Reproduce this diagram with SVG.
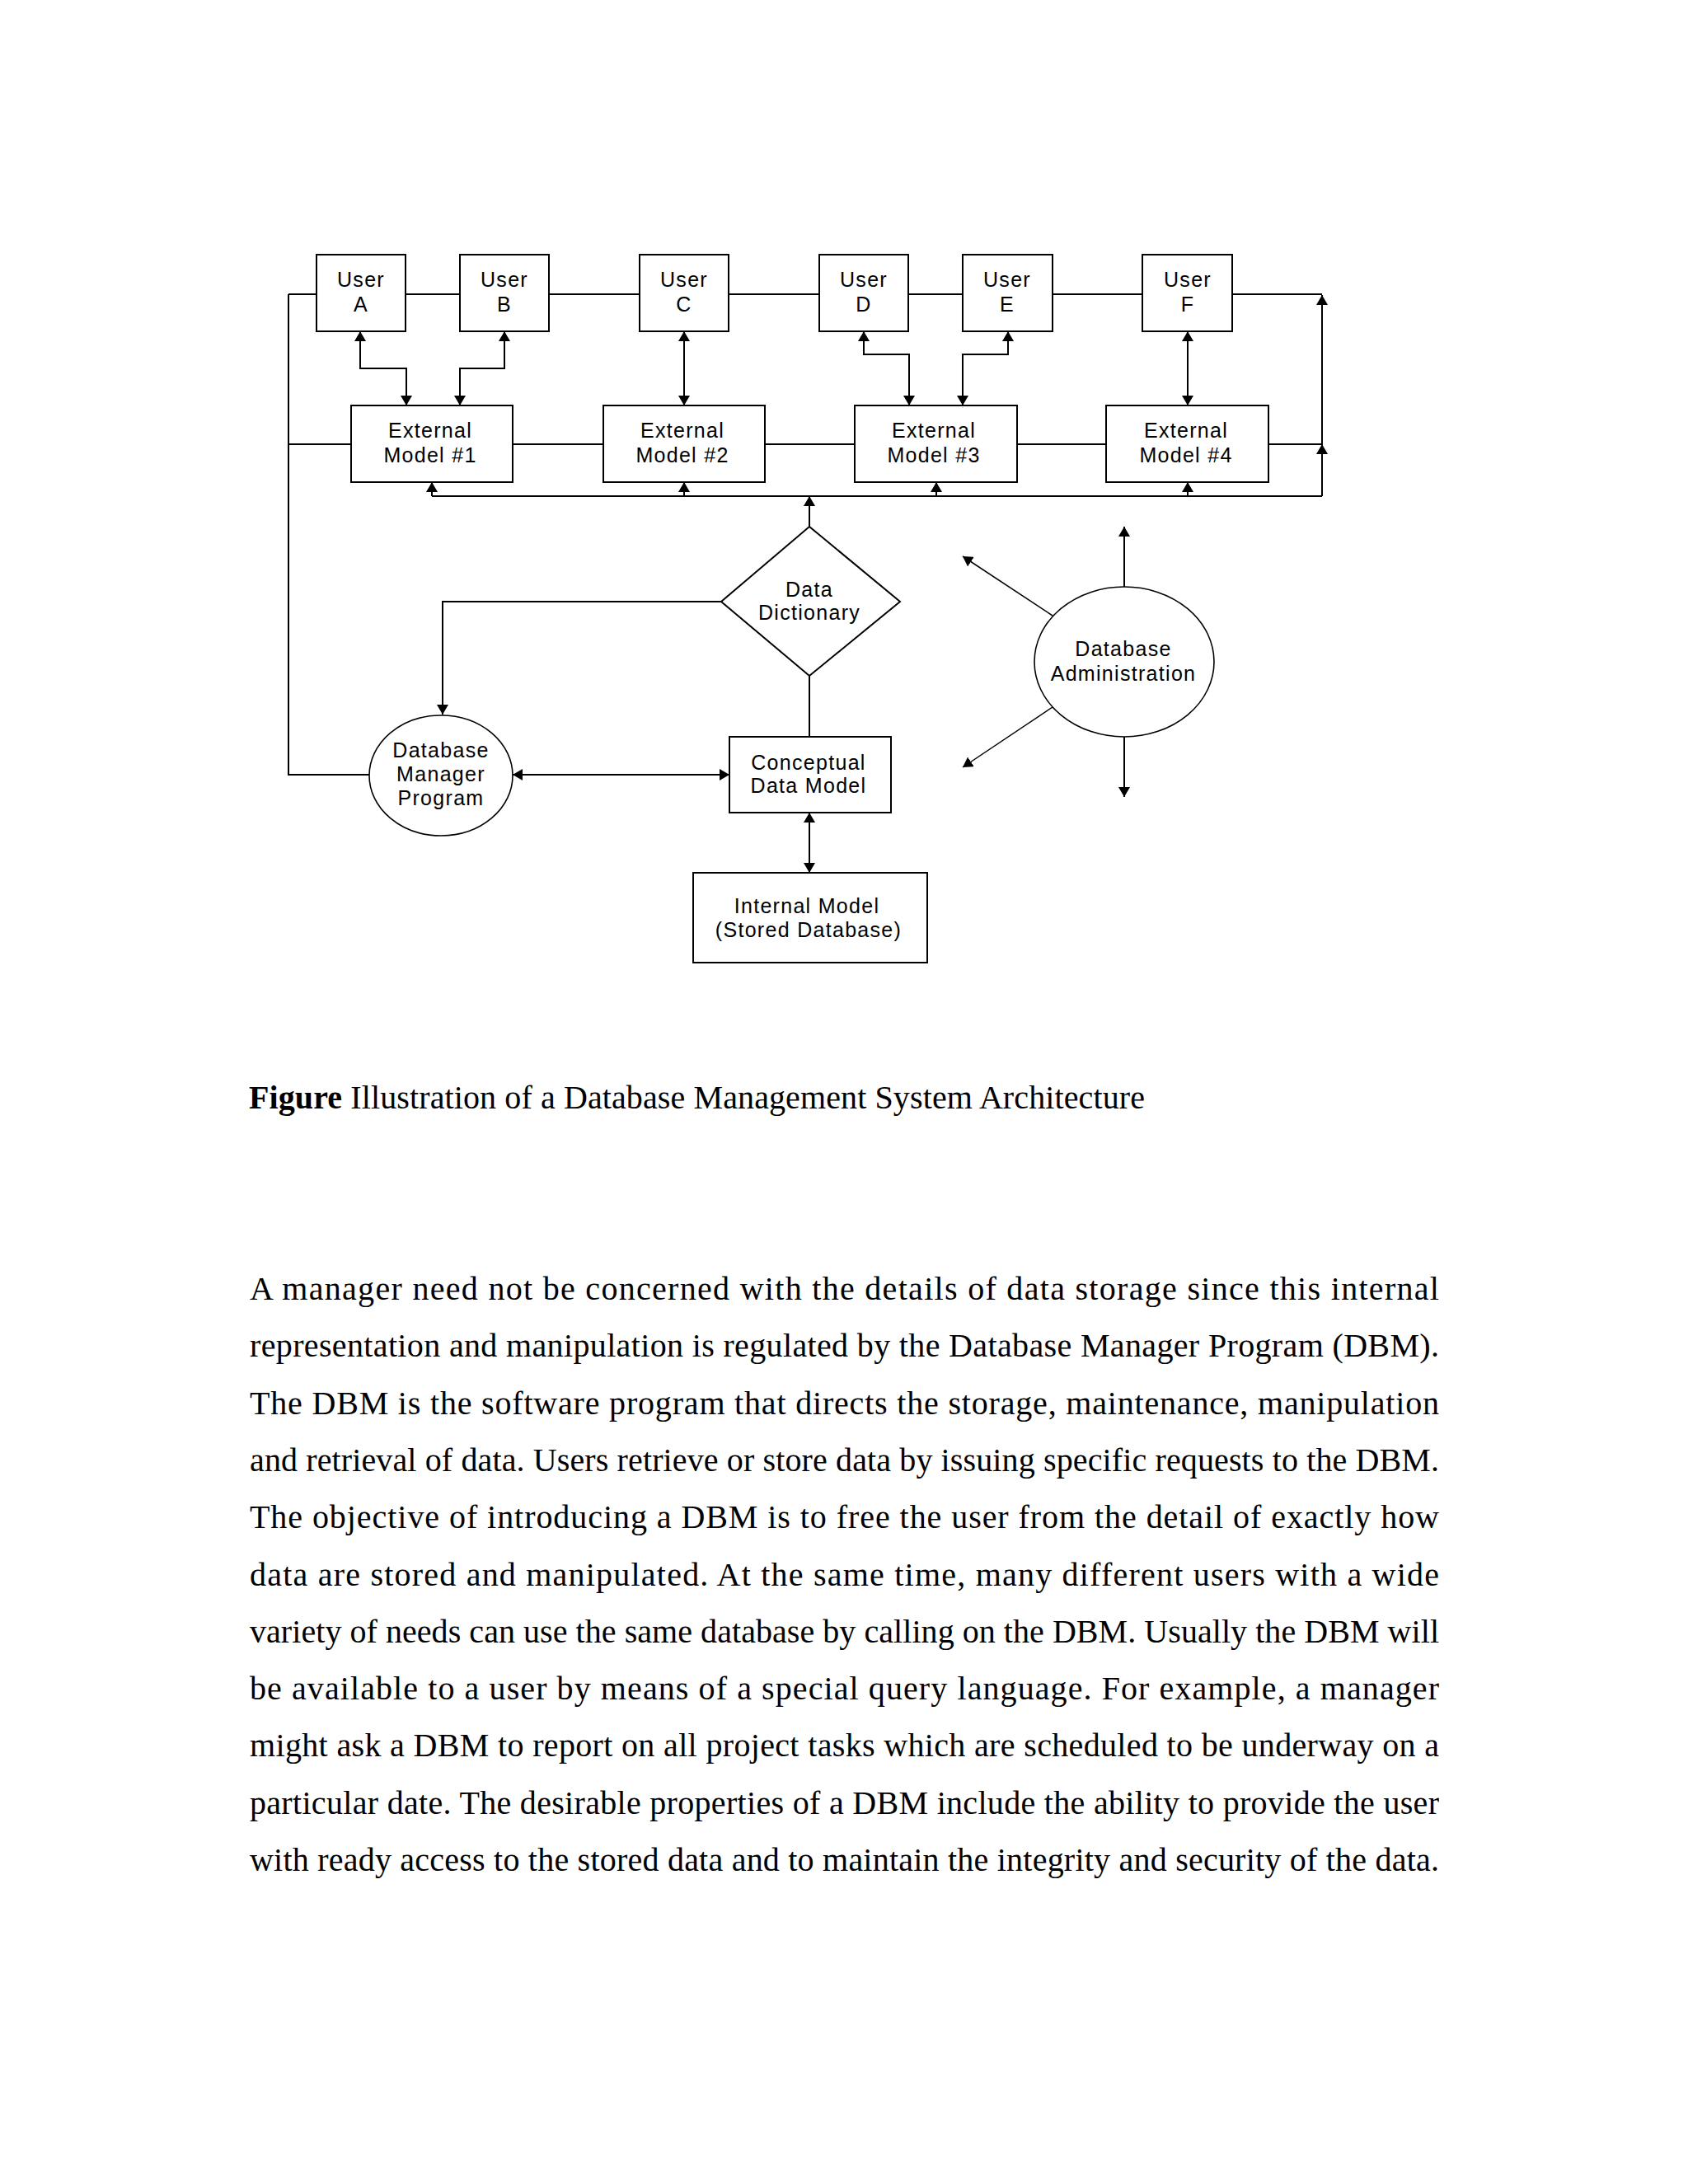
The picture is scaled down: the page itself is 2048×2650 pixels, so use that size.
<svg xmlns="http://www.w3.org/2000/svg" width="2048" height="2650" viewBox="0 0 2048 2650">
<style>
.ln{fill:none;stroke:#000;stroke-width:2}
.thin{fill:none;stroke:#000;stroke-width:1.5}
.box{fill:#fff;stroke:#000;stroke-width:2}
.ell{fill:#fff;stroke:#000;stroke-width:1.6}
.lbl{font-family:"Liberation Sans",Arial,sans-serif;font-size:25px;letter-spacing:1.3px;text-anchor:middle;fill:#000}
.body{font-family:"Liberation Serif","Times New Roman",serif;font-size:40px;fill:#000}
</style>
<defs>
<marker id="ah" markerUnits="userSpaceOnUse" markerWidth="12" markerHeight="14" viewBox="0 0 12 14" refX="12" refY="7" orient="auto-start-reverse">
<path d="M0,0 L12,7 L0,14 z" fill="#000"/>
</marker>
</defs>
<rect width="2048" height="2650" fill="#fff"/>

<g id="connectors">
<line class="ln" x1="350" y1="357" x2="1604" y2="357"/>
<line class="ln" x1="350" y1="539" x2="1604" y2="539"/>
<polyline class="ln" points="350,357 350,940 448,940"/>
<line class="ln" x1="1604" y1="602" x2="1604" y2="539" marker-end="url(#ah)"/>
<line class="ln" x1="1604" y1="539" x2="1604" y2="358" marker-end="url(#ah)"/>
<line class="ln" x1="524" y1="602" x2="1604" y2="602"/>
<line class="ln" x1="524" y1="602" x2="524" y2="585" marker-end="url(#ah)"/>
<line class="ln" x1="830" y1="602" x2="830" y2="585" marker-end="url(#ah)"/>
<line class="ln" x1="1136" y1="602" x2="1136" y2="585" marker-end="url(#ah)"/>
<line class="ln" x1="1441" y1="602" x2="1441" y2="585" marker-end="url(#ah)"/>
<polyline class="ln" points="437,402 437,447 493,447 493,492" marker-start="url(#ah)" marker-end="url(#ah)"/>
<polyline class="ln" points="612,402 612,447 558,447 558,492" marker-start="url(#ah)" marker-end="url(#ah)"/>
<line class="ln" x1="830" y1="402" x2="830" y2="492" marker-start="url(#ah)" marker-end="url(#ah)"/>
<polyline class="ln" points="1048,402 1048,430 1103,430 1103,492" marker-start="url(#ah)" marker-end="url(#ah)"/>
<polyline class="ln" points="1223,402 1223,430 1168,430 1168,492" marker-start="url(#ah)" marker-end="url(#ah)"/>
<line class="ln" x1="1441" y1="402" x2="1441" y2="492" marker-start="url(#ah)" marker-end="url(#ah)"/>
<line class="ln" x1="982" y1="639" x2="982" y2="602" marker-end="url(#ah)"/>
<polyline class="ln" points="875,730 537,730 537,867" marker-end="url(#ah)"/>
<line class="ln" x1="982" y1="820" x2="982" y2="894"/>
<line class="ln" x1="622" y1="940" x2="885" y2="940" marker-start="url(#ah)" marker-end="url(#ah)"/>
<line class="ln" x1="982" y1="986" x2="982" y2="1059" marker-start="url(#ah)" marker-end="url(#ah)"/>
<line class="ln" x1="1364" y1="712" x2="1364" y2="639" marker-end="url(#ah)"/>
<line class="ln" x1="1364" y1="894" x2="1364" y2="967" marker-end="url(#ah)"/>
<line class="thin" x1="1277" y1="747" x2="1168" y2="675" marker-end="url(#ah)"/>
<line class="thin" x1="1277" y1="858" x2="1168" y2="931" marker-end="url(#ah)"/>
</g>

<g id="userA"><rect class="box" x="384" y="309" width="108" height="93"/><text class="lbl" x="438" y="348">User</text><text class="lbl" x="438" y="378">A</text></g>
<g id="userB"><rect class="box" x="558" y="309" width="108" height="93"/><text class="lbl" x="612" y="348">User</text><text class="lbl" x="612" y="378">B</text></g>
<g id="userC"><rect class="box" x="776" y="309" width="108" height="93"/><text class="lbl" x="830" y="348">User</text><text class="lbl" x="830" y="378">C</text></g>
<g id="userD"><rect class="box" x="994" y="309" width="108" height="93"/><text class="lbl" x="1048" y="348">User</text><text class="lbl" x="1048" y="378">D</text></g>
<g id="userE"><rect class="box" x="1168" y="309" width="109" height="93"/><text class="lbl" x="1222" y="348">User</text><text class="lbl" x="1222" y="378">E</text></g>
<g id="userF"><rect class="box" x="1386" y="309" width="109" height="93"/><text class="lbl" x="1441" y="348">User</text><text class="lbl" x="1441" y="378">F</text></g>

<g id="ext1"><rect class="box" x="426" y="492" width="196" height="93"/><text class="lbl" x="522" y="531">External</text><text class="lbl" x="522" y="561">Model #1</text></g>
<g id="ext2"><rect class="box" x="732" y="492" width="196" height="93"/><text class="lbl" x="828" y="531">External</text><text class="lbl" x="828" y="561">Model #2</text></g>
<g id="ext3"><rect class="box" x="1037" y="492" width="197" height="93"/><text class="lbl" x="1133" y="531">External</text><text class="lbl" x="1133" y="561">Model #3</text></g>
<g id="ext4"><rect class="box" x="1342" y="492" width="197" height="93"/><text class="lbl" x="1439" y="531">External</text><text class="lbl" x="1439" y="561">Model #4</text></g>

<g id="dataDictionary"><polygon class="box" points="982,639 1092,730 982,820 875,730"/><text class="lbl" x="982" y="724">Data</text><text class="lbl" x="982" y="752">Dictionary</text></g>

<g id="dbm"><ellipse class="ell" cx="535" cy="941" rx="87" ry="73"/><text class="lbl" x="535" y="919">Database</text><text class="lbl" x="535" y="948">Manager</text><text class="lbl" x="535" y="977">Program</text></g>

<g id="cdm"><rect class="box" x="885" y="894" width="196" height="92"/><text class="lbl" x="981" y="934">Conceptual</text><text class="lbl" x="981" y="962">Data Model</text></g>

<g id="internal"><rect class="box" x="841" y="1059" width="284" height="109"/><text class="lbl" x="979" y="1108">Internal Model</text><text class="lbl" x="981" y="1137">(Stored Database)</text></g>

<g id="dba"><ellipse class="ell" cx="1364" cy="803" rx="109" ry="91"/><text class="lbl" x="1363" y="796">Database</text><text class="lbl" x="1363" y="826">Administration</text></g>

<g id="caption"><text class="body" x="302" y="1345" textLength="1087" lengthAdjust="spacing"><tspan font-weight="bold">Figure</tspan> Illustration of a Database Management System Architecture</text></g>

<g id="paragraph">
<text class="body" x="303" y="1577" textLength="1443" lengthAdjust="spacing">A manager need not be concerned with the details of data storage since this internal</text>
<text class="body" x="303" y="1646" textLength="1443" lengthAdjust="spacing">representation and manipulation is regulated by the Database Manager Program (DBM).</text>
<text class="body" x="303" y="1716" textLength="1443" lengthAdjust="spacing">The DBM is the software program that directs the storage, maintenance, manipulation</text>
<text class="body" x="303" y="1785" textLength="1443" lengthAdjust="spacing">and retrieval of data. Users retrieve or store data by issuing specific requests to the DBM.</text>
<text class="body" x="303" y="1854" textLength="1443" lengthAdjust="spacing">The objective of introducing a DBM is to free the user from the detail of exactly how</text>
<text class="body" x="303" y="1924" textLength="1443" lengthAdjust="spacing">data are stored and manipulated. At the same time, many different users with a wide</text>
<text class="body" x="303" y="1993" textLength="1443" lengthAdjust="spacing">variety of needs can use the same database by calling on the DBM. Usually the DBM will</text>
<text class="body" x="303" y="2062" textLength="1443" lengthAdjust="spacing">be available to a user by means of a special query language. For example, a manager</text>
<text class="body" x="303" y="2131" textLength="1443" lengthAdjust="spacing">might ask a DBM to report on all project tasks which are scheduled to be underway on a</text>
<text class="body" x="303" y="2201" textLength="1443" lengthAdjust="spacing">particular date. The desirable properties of a DBM include the ability to provide the user</text>
<text class="body" x="303" y="2270" textLength="1443" lengthAdjust="spacing">with ready access to the stored data and to maintain the integrity and security of the data.</text>
</g>
</svg>
